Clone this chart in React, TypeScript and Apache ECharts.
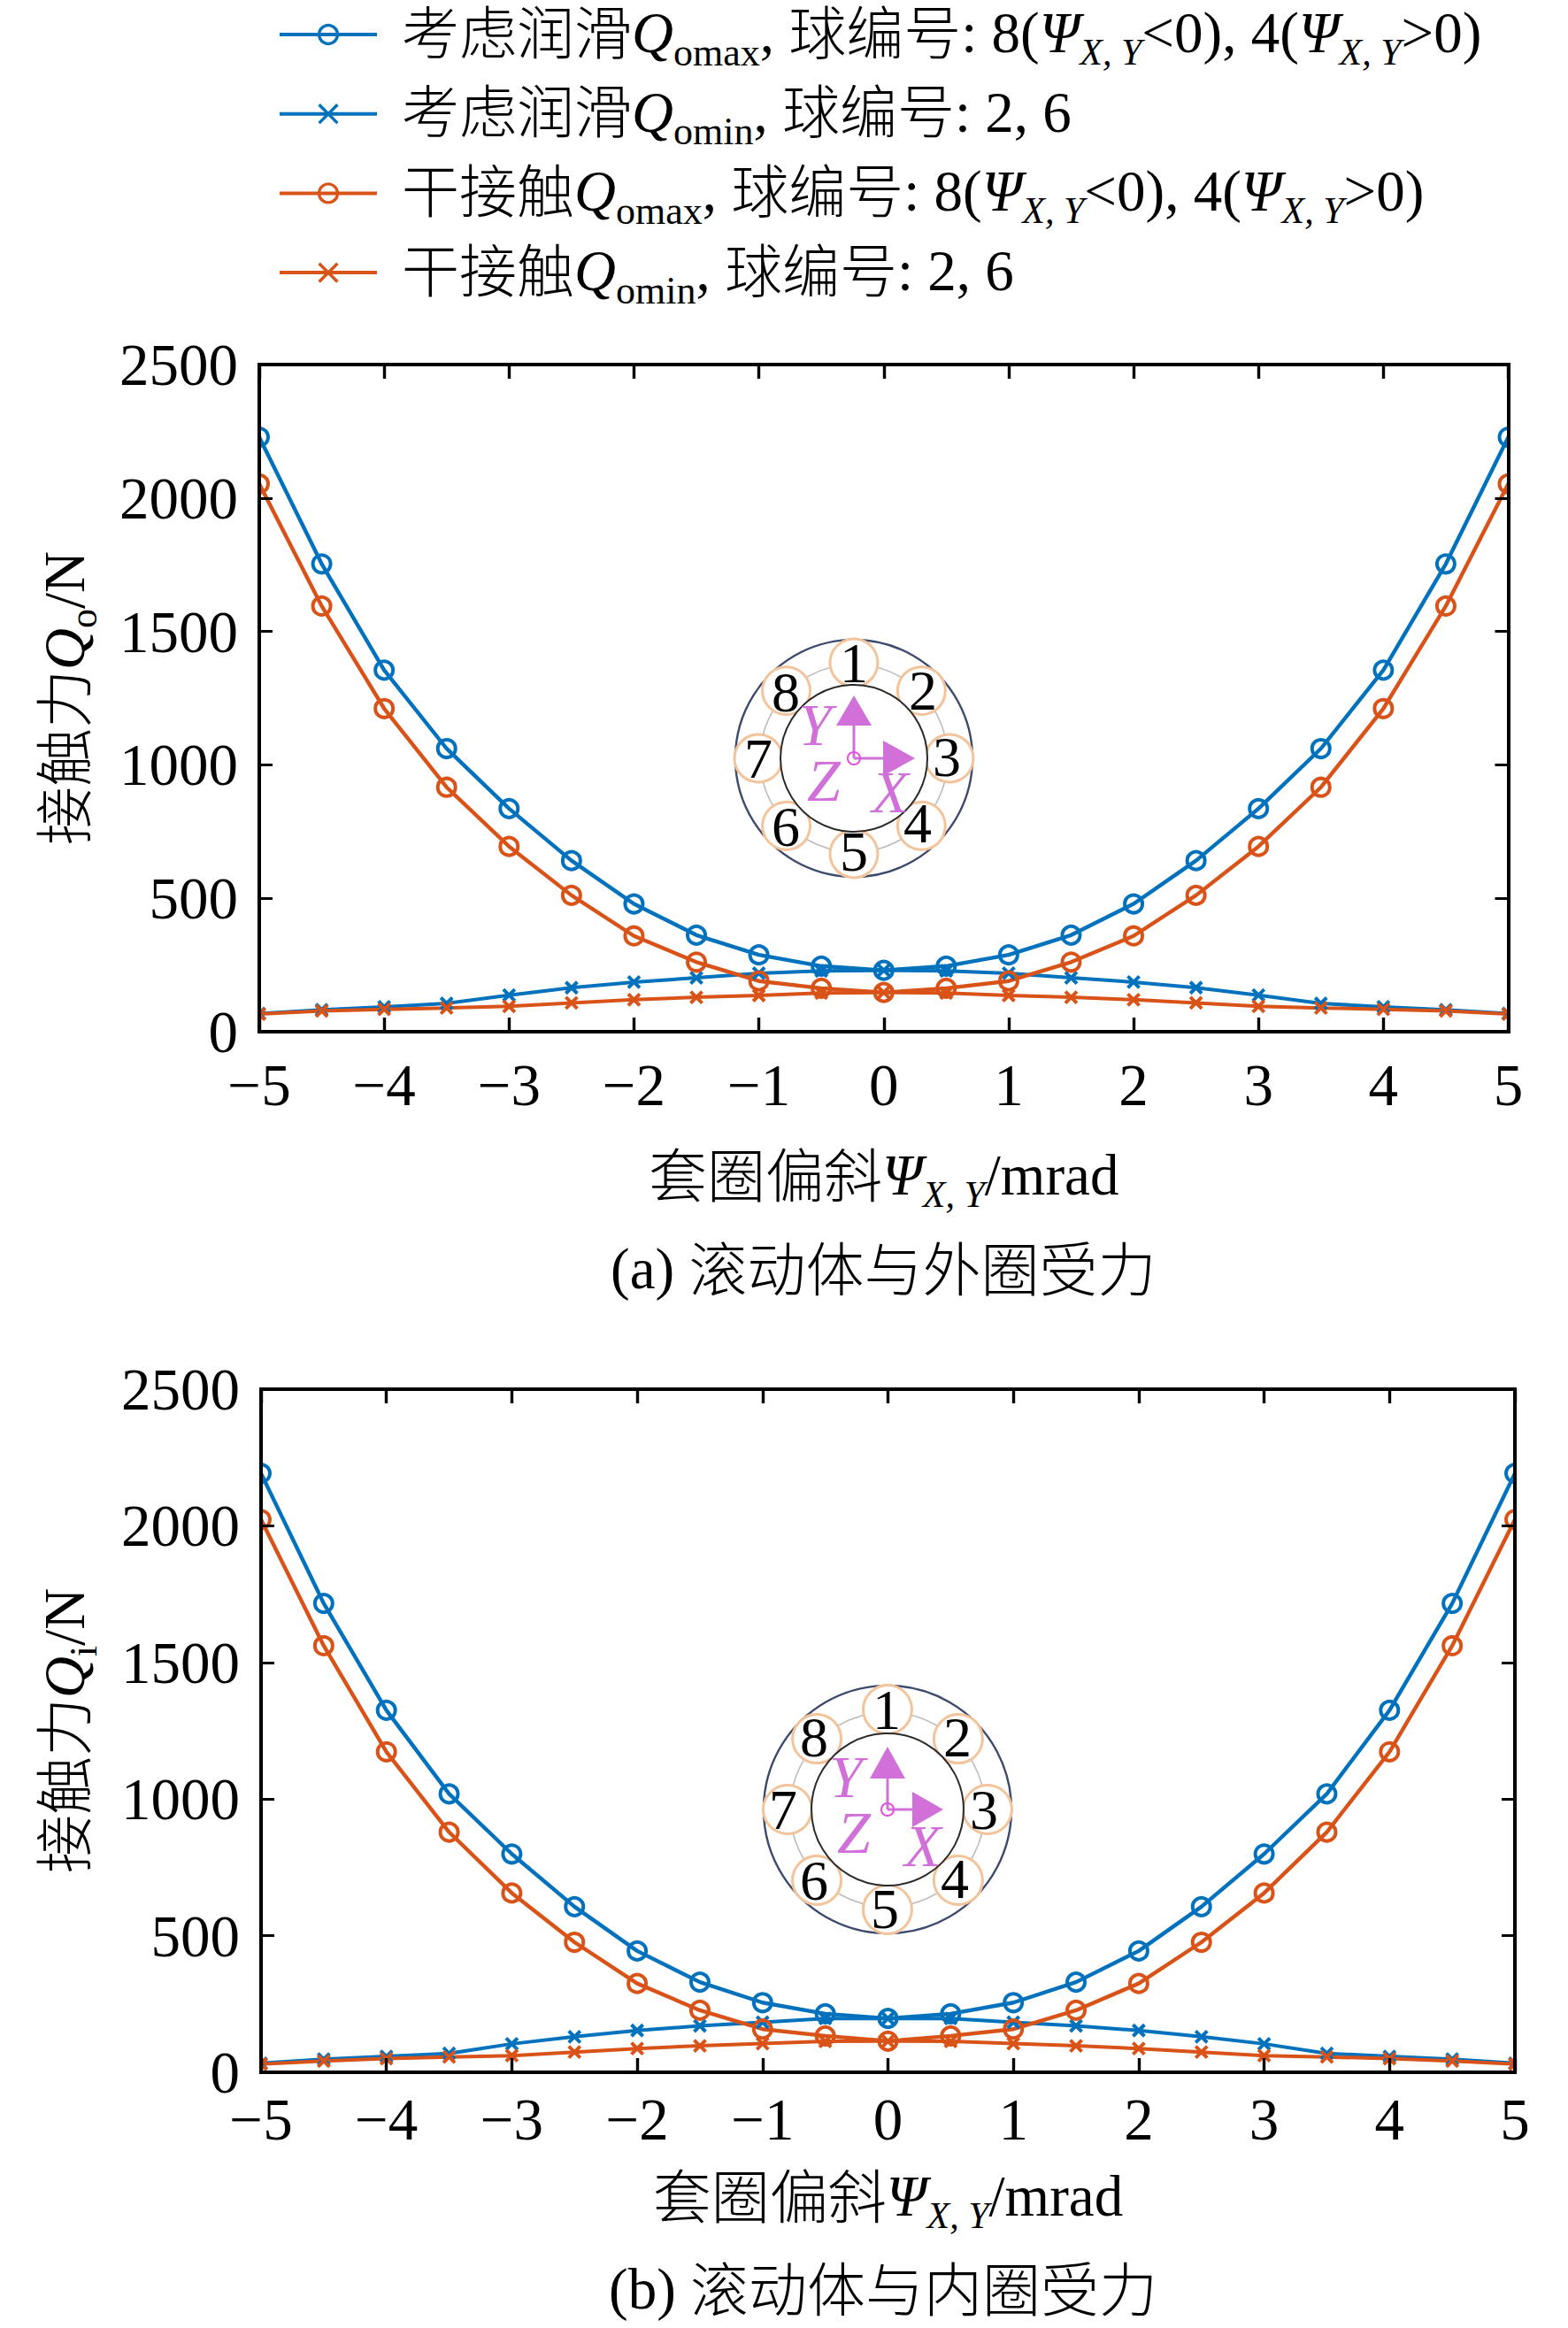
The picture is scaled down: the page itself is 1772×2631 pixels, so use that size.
import React, { useEffect, useRef } from "react";
import * as echarts from "echarts";

const xValues = [-5, -4.5, -4, -3.5, -3, -2.5, -2, -1.5, -1, -0.5, 0, 0.5, 1, 1.5, 2, 2.5, 3, 3.5, 4, 4.5, 5];

const outerMaxLub = [2228, 1753, 1355, 1061, 836, 641, 479, 362, 288, 246, 230, 246, 288, 362, 479, 641, 836, 1061, 1355, 1753, 2228];
const outerMinLub = [68, 82, 93, 106, 137, 165, 186, 202, 219, 228, 230, 228, 219, 202, 186, 165, 137, 106, 93, 82, 68];
const outerMaxDry = [2053, 1595, 1211, 916, 694, 511, 359, 261, 190, 163, 147, 163, 190, 261, 359, 511, 694, 916, 1211, 1595, 2053];
const outerMinDry = [66, 78, 84, 89, 95, 108, 120, 129, 136, 145, 147, 145, 136, 129, 120, 108, 95, 89, 84, 78, 66];

const innerMaxLub = [2192, 1716, 1325, 1019, 799, 606, 444, 330, 255, 214, 197, 214, 255, 330, 444, 606, 799, 1019, 1325, 1716, 2192];
const innerMinLub = [33, 48, 58, 69, 104, 130, 153, 170, 183, 197, 197, 197, 183, 170, 153, 130, 104, 69, 58, 48, 33];
const innerMaxDry = [2023, 1561, 1173, 879, 656, 476, 325, 227, 158, 133, 114, 133, 158, 227, 325, 476, 656, 879, 1173, 1561, 2023];
const innerMinDry = [30, 41, 50, 56, 61, 74, 87, 97, 105, 113, 114, 113, 105, 97, 87, 74, 61, 56, 50, 41, 30];

const seriesNames = [
  "考虑润滑Qomax, 球编号: 8(ΨX, Y<0), 4(ΨX, Y>0)",
  "考虑润滑Qomin, 球编号: 2, 6",
  "干接触Qomax, 球编号: 8(ΨX, Y<0), 4(ΨX, Y>0)",
  "干接触Qomin, 球编号: 2, 6",
];
const legendRich = [
  "{c0|考虑润滑}{q|Q}{s|omax}{t|, }{c|球编号}{t|: 8(}{q|Ψ}{is|X, Y}{t|<0), 4(}{q|Ψ}{is|X, Y}{t|>0)}",
  "{c0|考虑润滑}{q|Q}{s|omin}{t|, }{c|球编号}{t|: 2, 6}",
  "{c0|干接触}{q|Q}{s|omax}{t|, }{c|球编号}{t|: 8(}{q|Ψ}{is|X, Y}{t|<0), 4(}{q|Ψ}{is|X, Y}{t|>0)}",
  "{c0|干接触}{q|Q}{s|omin}{t|, }{c|球编号}{t|: 2, 6}",
];
const xAxisName = "{c2|套圈偏斜}{q|Ψ}{is|X, Y}{t|/mrad}";
const yAxisNames = ["{c2|接触力}{q|Q}{s|o}{t|/N}", "{c2|接触力}{q|Q}{s|i}{t|/N}"];
const captions = ["{t|(a) }{c2|滚动体与外圈受力}", "{t|(b) }{c2|滚动体与内圈受力}"];
const ballNumbers = ["1", "2", "3", "4", "5", "6", "7", "8"];

const BLUE = "#0072BD";
const ORANGE = "#D95319";
const PINK = "#D070D8";
const SERIF = "'Liberation Serif'";
const CJK = "'Noto Sans CJK SC'";
const CROSS = "path://M0,0L10,10M10,0L0,10";

const rich: any = {
  c0: { fontFamily: CJK, fontSize: 65, fontWeight: 300, color: "#000", padding: [0, 0, 13, 23] },
  c: { fontFamily: CJK, fontSize: 65, fontWeight: 300, color: "#000", padding: [0, 0, 13, 0] },
  c2: { fontFamily: CJK, fontSize: 66, fontWeight: 300, color: "#000", padding: [0, 0, 13, 0] },
  q: { fontFamily: SERIF, fontStyle: "italic", fontWeight: "normal", fontSize: 65, color: "#000", padding: [0, 0, 4, 0], lineHeight: 64 },
  t: { fontFamily: SERIF, fontWeight: "normal", fontSize: 65, color: "#000", padding: [0, 0, 4, 0], lineHeight: 64 },
  s: { fontFamily: SERIF, fontWeight: "normal", fontSize: 44, color: "#000", padding: [40, 0, 0, 0], lineHeight: 44 },
  is: { fontFamily: SERIF, fontStyle: "italic", fontWeight: "normal", fontSize: 42, color: "#000", padding: [40, 0, 0, 0], lineHeight: 44 },
};

type Inset = {
  cx: number; cy: number; rOuter: number; rInner: number; rCage: number; rBall: number; rCenter: number;
  nums: number[][]; letters: number[][]; tipY: number; baseY: number; tipX: number; baseX: number;
};

const insetTop: Inset = {
  cx: 965, cy: 857, rOuter: 134, rInner: 83, rCage: 106, rBall: 27, rCenter: 108,
  nums: [[0, -108], [78, -77], [105, -2], [72, 73], [0, 105], [-77, 77], [-108, 0], [-77, -75]],
  letters: [[-44, -38], [-34, 25], [41, 38]],
  tipY: -71, baseY: -37, tipX: 69, baseX: 33,
};
const insetBottom: Inset = {
  cx: 1003, cy: 2045, rOuter: 140, rInner: 86, rCage: 110, rBall: 27.5, rCenter: 113,
  nums: [[-1, -113], [79, -82], [109, 0], [76, 78], [-3, 112], [-83, 80], [-118, 0], [-83, -82]],
  letters: [[-47, -37], [-38, 26], [40, 41]],
  tipY: -71, baseY: -35, tipX: 63, baseX: 28,
};

function insetElements(p: Inset): any[] {
  const { cx, cy } = p;
  const els: any[] = [];
  els.push({ type: "circle", z: 3, shape: { cx, cy, r: p.rOuter }, style: { fill: "none", stroke: "#3C4A6E", lineWidth: 2.4 } });
  els.push({ type: "circle", z: 3, shape: { cx, cy, r: p.rCage }, style: { fill: "none", stroke: "#BDBDBD", lineWidth: 1.6 } });
  for (let i = 0; i < 8; i++) {
    const a = (i * Math.PI) / 4;
    els.push({
      type: "circle", z: 3,
      shape: { cx: cx + p.rCenter * Math.sin(a), cy: cy - p.rCenter * Math.cos(a), r: p.rBall },
      style: { fill: "#fff", stroke: "#F3C49C", lineWidth: 3 },
    });
  }
  els.push({ type: "circle", z: 3, shape: { cx, cy, r: p.rInner }, style: { fill: "#fff", stroke: "#2A2A2A", lineWidth: 2 } });
  ballNumbers.forEach((n, i) => {
    els.push({
      type: "text", z: 4, x: cx + p.nums[i][0], y: cy + p.nums[i][1],
      style: { text: n, fontFamily: SERIF, fontSize: 64, fill: "#000", align: "center", verticalAlign: "middle" },
    });
  });
  ["Y", "Z", "X"].forEach((n, i) => {
    els.push({
      type: "text", z: 4, x: cx + p.letters[i][0], y: cy + p.letters[i][1],
      style: { text: n, fontFamily: SERIF, fontStyle: "italic", fontSize: 68, fill: PINK, align: "center", verticalAlign: "middle" },
    });
  });
  els.push({ type: "line", z: 4, shape: { x1: cx, y1: cy, x2: cx, y2: cy + p.baseY }, style: { stroke: PINK, lineWidth: 3 } });
  els.push({ type: "line", z: 4, shape: { x1: cx, y1: cy, x2: cx + p.baseX, y2: cy }, style: { stroke: PINK, lineWidth: 3 } });
  els.push({ type: "polygon", z: 4, shape: { points: [[cx, cy + p.tipY], [cx - 20, cy + p.baseY], [cx + 20, cy + p.baseY]] }, style: { fill: PINK } });
  els.push({ type: "polygon", z: 4, shape: { points: [[cx + p.tipX, cy], [cx + p.baseX, cy - 20], [cx + p.baseX, cy + 20]] }, style: { fill: PINK } });
  els.push({ type: "circle", z: 4, shape: { cx, cy, r: 7 }, style: { fill: "none", stroke: "#E050E0", lineWidth: 2 } });
  return els;
}

const grids = [
  { left: 293, top: 412, width: 1411.5, height: 754 },
  { left: 295, top: 1570, width: 1417, height: 772 },
];
const labelMargins = [26, 19];
const xNameGaps = [125, 103];

function lineSeries(name: string, data: number[], color: string, gridIndex: number, isMax: boolean) {
  return {
    name,
    type: "line",
    xAxisIndex: gridIndex * 2,
    yAxisIndex: gridIndex * 2,
    data: data.map((v, i) => [xValues[i], v]),
    symbol: isMax ? "circle" : CROSS,
    symbolSize: isMax ? 20 : 13,
    showSymbol: true,
    clip: false,
    lineStyle: { color, width: isMax ? 4.4 : 4 },
    itemStyle: { color: "transparent", borderColor: color, borderWidth: 4 },
    emphasis: { disabled: true },
  };
}

function buildAxes() {
  const xAxis: any[] = [];
  const yAxis: any[] = [];
  grids.forEach((_, g) => {
    const line = { onZero: false, lineStyle: { color: "#000", width: 4, cap: "square" } };
    const xTick = { inside: true, length: 16, lineStyle: { color: "#000", width: 3.4 } };
    const yTick = { inside: true, length: 15, lineStyle: { color: "#000", width: 3 } };
    const xCommon = { type: "value", gridIndex: g, min: -5, max: 5, interval: 1, z: 6, splitLine: { show: false }, axisLine: line, axisTick: xTick };
    const yCommon = { type: "value", gridIndex: g, min: 0, max: 2500, interval: 500, z: 6, splitLine: { show: false }, axisLine: line, axisTick: yTick };
    xAxis.push({
      ...xCommon,
      position: "bottom",
      name: xAxisName,
      nameLocation: "middle",
      nameGap: xNameGaps[g],
      nameTextStyle: { rich },
      axisLabel: {
        fontFamily: SERIF, fontSize: 67, color: "#000", margin: labelMargins[g],
        formatter: (v: number) => (v < 0 ? "\u2212" + Math.abs(v) : String(v)),
      },
    });
    xAxis.push({ ...xCommon, position: "top", axisLabel: { show: false } });
    yAxis.push({
      ...yCommon,
      position: "left",
      name: yAxisNames[g],
      nameLocation: "middle",
      nameRotate: 90,
      nameGap: g === 0 ? 179 : 181,
      nameTextStyle: { rich },
      axisLabel: { fontFamily: SERIF, fontSize: 67, color: "#000", margin: 24, hideOverlap: false, formatter: (v: number) => String(v) },
    });
    yAxis.push({ ...yCommon, position: "right", axisLabel: { show: false } });
  });
  return { xAxis, yAxis };
}

export default function App() {
  const ref = useRef<HTMLDivElement>(null);
  useEffect(() => {
    document.body.style.margin = "0";
    if (!ref.current) return;
    const chart = echarts.init(ref.current, undefined, { renderer: "svg" });
    const { xAxis, yAxis } = buildAxes();
    const masks: any[] = [];
    grids.forEach((g) => {
      masks.push({ type: "rect", z: 5, shape: { x: g.left - 22, y: g.top, width: 22, height: g.height }, style: { fill: "#fff" } });
      masks.push({ type: "rect", z: 5, shape: { x: g.left + g.width, y: g.top, width: 22, height: g.height }, style: { fill: "#fff" } });
    });
    chart.setOption({
      animation: false,
      backgroundColor: "#fff",
      grid: grids.map((g) => ({ ...g, containLabel: false })),
      xAxis,
      yAxis,
      legend: {
        data: seriesNames,
        orient: "vertical",
        left: 314,
        top: -3,
        padding: 0,
        itemWidth: 110,
        itemHeight: 26,
        itemGap: 5.7,
        selectedMode: false,
        align: "left",
        formatter: (name: string) => legendRich[seriesNames.indexOf(name)],
        textStyle: { rich },
        lineStyle: { width: 4 },
        itemStyle: { borderWidth: 3.4 },
      },
      title: captions.map((text, i) => ({
        text,
        left: i === 0 ? 690 : 688,
        top: i === 0 ? 1397 : 2550,
        padding: 0,
        textStyle: { rich },
      })),
      graphic: { elements: [...masks, ...insetElements(insetTop), ...insetElements(insetBottom)] },
      series: [
        lineSeries(seriesNames[0], outerMaxLub, BLUE, 0, true),
        lineSeries(seriesNames[1], outerMinLub, BLUE, 0, false),
        lineSeries(seriesNames[2], outerMaxDry, ORANGE, 0, true),
        lineSeries(seriesNames[3], outerMinDry, ORANGE, 0, false),
        lineSeries(seriesNames[0], innerMaxLub, BLUE, 1, true),
        lineSeries(seriesNames[1], innerMinLub, BLUE, 1, false),
        lineSeries(seriesNames[2], innerMaxDry, ORANGE, 1, true),
        lineSeries(seriesNames[3], innerMinDry, ORANGE, 1, false),
      ],
    });
    return () => chart.dispose();
  }, []);
  return <div ref={ref} style={{ width: 1772, height: 2631, background: "#fff" }} />;
}
